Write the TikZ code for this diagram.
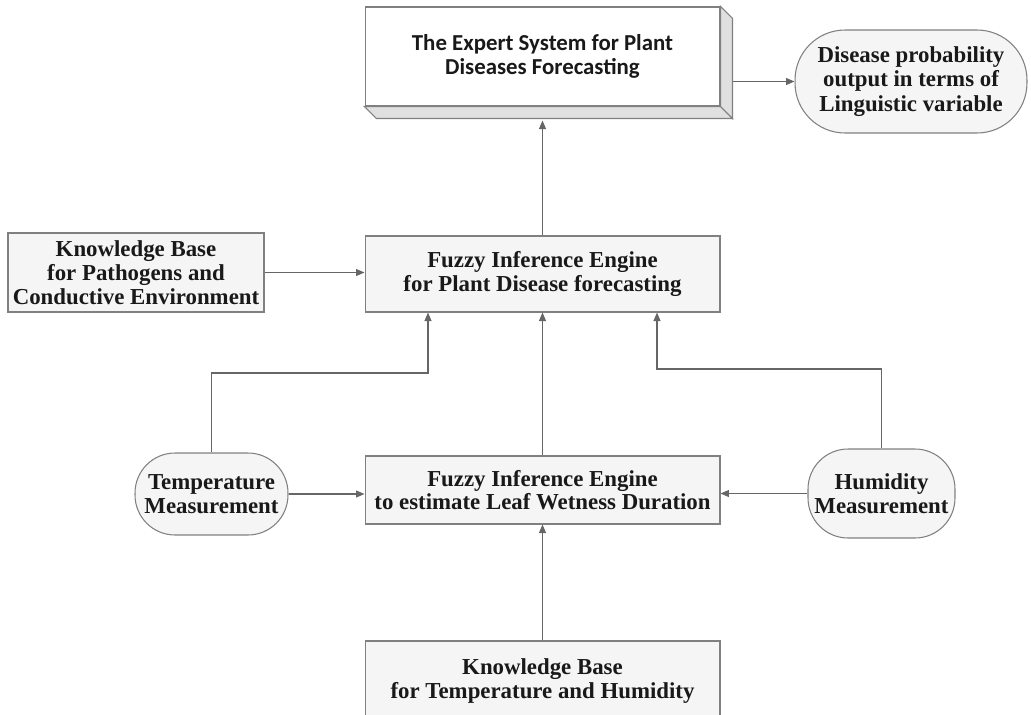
\documentclass[tikz,border=0pt]{standalone}
\usepackage{fontspec}
\setmainfont{Liberation Serif}
\newfontfamily\calfont{Carlito}
\usepackage{tikz}
\usetikzlibrary{positioning, calc, arrows.meta, shapes}

\begin{document}
\begin{tikzpicture}[x=0.02cm, y=-0.02cm, >={Triangle[length=1.7mm, width=1.4mm]}]
	\tikzstyle{engine}=[draw=black!50, line width=0.6pt, fill=black!4, text=black!90, inner sep=0pt, align=center, font=\bfseries\fontsize{13}{13.5}\selectfont]
	\tikzstyle{measure}=[engine, rounded corners=0.8cm]
	\tikzstyle{link}=[->, draw=black!60, line width=0.6pt]
	\useasboundingbox (0,0) rectangle (1031,714);

	\node (expert) at (542.5,56.5) [engine, fill=white, minimum width=7.1cm, minimum height=1.98cm, font=\calfont\bfseries\fontsize{13}{14}\selectfont] {The Expert System for Plant\\Diseases Forecasting};
	\filldraw [draw=black!50, fill=black!12, line width=0.6pt] (expert.north east) -- ++(12,12) -- ($(expert.south east)+(12,12)$) -- (expert.south east) -- cycle;
	\filldraw [draw=black!50, fill=black!12, line width=0.6pt] (expert.south west) -- ++(12,12) -- ($(expert.south east)+(12,12)$) -- (expert.south east) -- cycle;
	\coordinate (eside) at ($(expert.east)+(12,0)$);
	\coordinate (ebottom) at ($(expert.south)+(0,14)$);

	\node (out) at (911,81.5) [measure, rounded corners=1cm, minimum width=4.64cm, minimum height=2.06cm, font=\bfseries\fontsize{13}{14}\selectfont] {Disease probability\\output in terms of\\Linguistic variable};

	\node (kbpath) at (136,272.5) [engine, minimum width=5.12cm, minimum height=1.58cm] {Knowledge Base\\for Pathogens and\\Conductive Environment};
	\node (plant) at (542.5,274) [engine, minimum width=7.1cm, minimum height=1.52cm] {Fuzzy Inference Engine\\for Plant Disease forecasting};

	\node (temp) at (211.5,494) [measure, minimum width=3.06cm, minimum height=1.64cm] {Temperature\\Measurement};
	\node (lwd) at (542.5,490) [engine, minimum width=7.1cm, minimum height=1.36cm] {Fuzzy Inference Engine\\to estimate Leaf Wetness Duration};
	\node (hum) at (881.5,493.5) [measure, minimum width=2.94cm, minimum height=1.78cm] {Humidity\\Measurement};

	\node (kbth) at (542.5,681) [engine, minimum width=7.1cm, minimum height=1.6cm] {Knowledge Base\\for Temperature and Humidity};

	%% bends of the two side routes
	\coordinate (tbend) at (428,373);
	\coordinate (hbend) at (657,369);

	\draw [link] (eside |- out.west) -- (out.west);
	\draw [link] (plant.north) -- (ebottom);
	\draw [link] (kbpath.east) -- (kbpath.east -| plant.west);
	\draw [link] (temp.north) |- (tbend) -- (tbend |- plant.south);
	\draw [link] (lwd.north) -- (plant.south);
	\draw [link] (hum.north) |- (hbend) -- (hbend |- plant.south);
	\draw [link] (temp.east) -- (temp.east -| lwd.west);
	\draw [link] (hum.west) -- (hum.west -| lwd.east);
	\draw [link] (kbth.north) -- (lwd.south);
\end{tikzpicture}
\end{document}
